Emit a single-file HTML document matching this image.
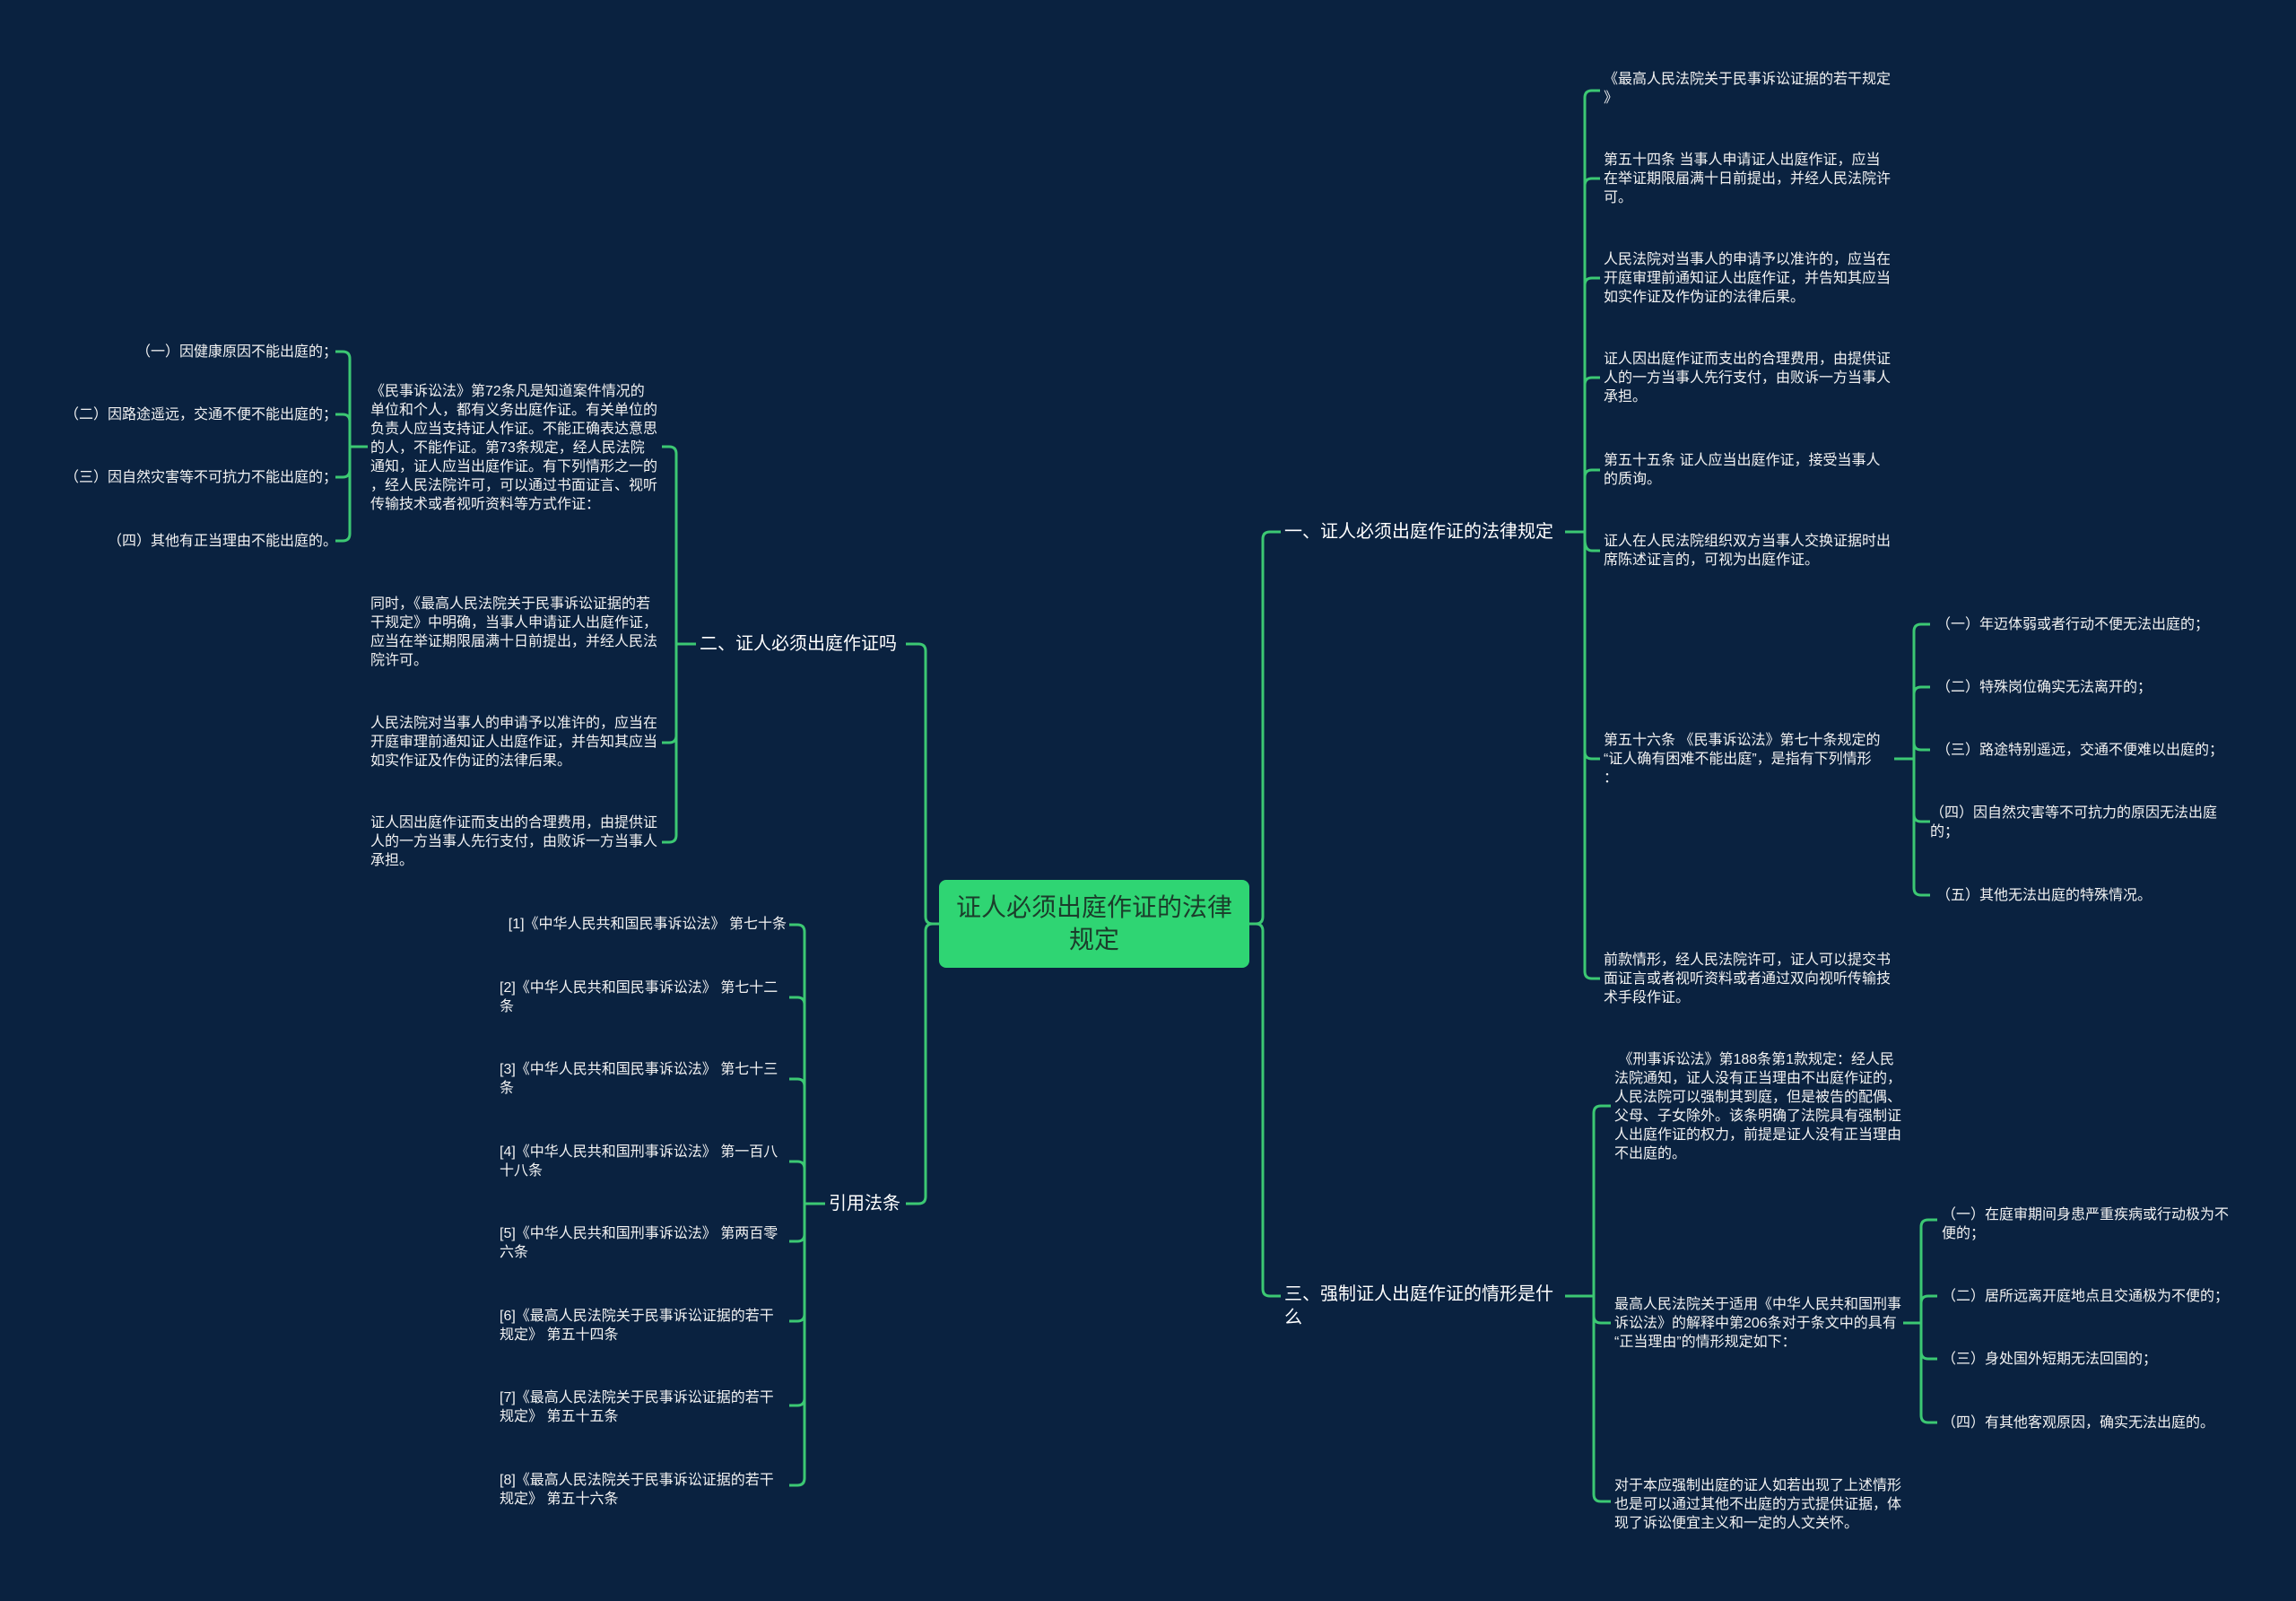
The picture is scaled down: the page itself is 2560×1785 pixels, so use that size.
<!DOCTYPE html>
<html><head><meta charset="utf-8"><style>
html,body{margin:0;padding:0;}
body{width:2560px;height:1785px;background:#0a2240;position:relative;overflow:hidden;font-family:"Liberation Sans","Noto Sans CJK SC",sans-serif;color:#fff;}
.t{position:absolute;font-size:16px;line-height:21px;color:#f2f2f2;}
.b{position:absolute;font-size:20px;line-height:26px;color:#fff;white-space:nowrap;}
.r{text-align:right;white-space:nowrap;}
#root{position:absolute;left:1047px;top:981px;width:346px;height:98px;background:#2fd573;border-radius:8px;color:#1b3d2b;font-size:28px;line-height:36px;text-align:center;display:flex;align-items:center;justify-content:center;}
svg{position:absolute;left:0;top:0;}
</style></head><body>
<svg width="2560" height="1785" fill="none" stroke="#3cc873" stroke-width="3">
<path d="M1393 1030 H1400 Q1408 1030 1408 1022 V601 Q1408 593 1416 593 H1428"/>
<path d="M1400 1030 Q1408 1030 1408 1038 V1437 Q1408 1445 1416 1445 H1428"/>
<path d="M1047 1030 H1040 Q1032 1030 1032 1022 V726 Q1032 718 1024 718 H1010"/>
<path d="M1040 1030 Q1032 1030 1032 1038 V1334 Q1032 1342 1024 1342 H1010"/>
<path d="M1745 593 H1767"/>
<path d="M1767 593 V109 Q1767 101 1775 101 H1784"/>
<path d="M1767 207 Q1767 199 1775 199 H1784"/>
<path d="M1767 318 Q1767 310 1775 310 H1784"/>
<path d="M1767 429 Q1767 421 1775 421 H1784"/>
<path d="M1767 532 Q1767 524 1775 524 H1784"/>
<path d="M1767 601 Q1767 614 1775 614 H1784"/>
<path d="M1767 593 V1083 Q1767 1091 1775 1091 H1784"/>
<path d="M1767 838 Q1767 846 1775 846 H1784"/>
<path d="M2112 846 H2134"/>
<path d="M2134 846 V704 Q2134 696 2142 696 H2152"/>
<path d="M2134 774 Q2134 766 2142 766 H2152"/>
<path d="M2134 846 V990 Q2134 998 2142 998 H2152"/>
<path d="M2134 828 Q2134 836 2142 836 H2152"/>
<path d="M2134 908 Q2134 916 2142 916 H2152"/>
<path d="M1745 1445 H1777"/>
<path d="M1777 1445 V1241 Q1777 1233 1785 1233 H1796"/>
<path d="M1777 1445 V1666 Q1777 1674 1785 1674 H1796"/>
<path d="M1777 1467 Q1777 1475 1785 1475 H1796"/>
<path d="M2122 1475 H2142"/>
<path d="M2142 1475 V1368 Q2142 1360 2150 1360 H2160"/>
<path d="M2142 1453 Q2142 1445 2150 1445 H2160"/>
<path d="M2142 1475 V1578 Q2142 1586 2150 1586 H2160"/>
<path d="M2142 1507 Q2142 1515 2150 1515 H2160"/>
<path d="M776 718 H754"/>
<path d="M754 718 V506 Q754 498 746 498 H738"/>
<path d="M754 718 V931 Q754 939 746 939 H738"/>
<path d="M754 820 Q754 828 746 828 H738"/>
<path d="M410 498 H390"/>
<path d="M390 498 V400 Q390 392 382 392 H374"/>
<path d="M390 470 Q390 462 382 462 H374"/>
<path d="M390 498 V595 Q390 603 382 603 H374"/>
<path d="M390 524 Q390 532 382 532 H374"/>
<path d="M920 1342 H897"/>
<path d="M897 1342 V1039 Q897 1031 889 1031 H880"/>
<path d="M897 1120 Q897 1112 889 1112 H880"/>
<path d="M897 1211 Q897 1203 889 1203 H880"/>
<path d="M897 1303 Q897 1295 889 1295 H880"/>
<path d="M897 1342 V1648 Q897 1656 889 1656 H880"/>
<path d="M897 1376 Q897 1384 889 1384 H880"/>
<path d="M897 1465 Q897 1473 889 1473 H880"/>
<path d="M897 1559 Q897 1567 889 1567 H880"/>
</svg>

<div id="root"><div>证人必须出庭作证的法律<br>规定</div></div>

<div class="b" style="left:1432px;top:580px;">一、证人必须出庭作证的法律规定</div>
<div class="b" style="left:1432px;top:1430px;white-space:normal;width:312px;">三、强制证人出庭作证的情形是什么</div>
<div class="b" style="left:780px;top:705px;">二、证人必须出庭作证吗</div>
<div class="b" style="left:924px;top:1329px;">引用法条</div>

<div class="t" style="left:1788px;top:78px;width:330px;">《最高人民法院关于民事诉讼证据的若干规定<br>》</div>
<div class="t" style="left:1788px;top:168px;width:330px;">第五十四条 当事人申请证人出庭作证，应当<br>在举证期限届满十日前提出，并经人民法院许<br>可。</div>
<div class="t" style="left:1788px;top:279px;width:330px;">人民法院对当事人的申请予以准许的，应当在<br>开庭审理前通知证人出庭作证，并告知其应当<br>如实作证及作伪证的法律后果。</div>
<div class="t" style="left:1788px;top:390px;width:330px;">证人因出庭作证而支出的合理费用，由提供证<br>人的一方当事人先行支付，由败诉一方当事人<br>承担。</div>
<div class="t" style="left:1788px;top:503px;width:330px;">第五十五条 证人应当出庭作证，接受当事人<br>的质询。</div>
<div class="t" style="left:1788px;top:593px;width:330px;">证人在人民法院组织双方当事人交换证据时出<br>席陈述证言的，可视为出庭作证。</div>
<div class="t" style="left:1788px;top:815px;width:330px;">第五十六条 《民事诉讼法》第七十条规定的<br>“证人确有困难不能出庭”，是指有下列情形<br>：</div>
<div class="t" style="left:1788px;top:1060px;width:330px;">前款情形，经人民法院许可，证人可以提交书<br>面证言或者视听资料或者通过双向视听传输技<br>术手段作证。</div>

<div class="t" style="left:2159px;top:686px;white-space:nowrap;">（一）年迈体弱或者行动不便无法出庭的；</div>
<div class="t" style="left:2159px;top:756px;white-space:nowrap;">（二）特殊岗位确实无法离开的；</div>
<div class="t" style="left:2159px;top:826px;white-space:nowrap;">（三）路途特别遥远，交通不便难以出庭的；</div>
<div class="t" style="left:2152px;top:896px;width:340px;">（四）因自然灾害等不可抗力的原因无法出庭<br>的；</div>
<div class="t" style="left:2159px;top:988px;white-space:nowrap;">（五）其他无法出庭的特殊情况。</div>

<div class="t" style="left:1800px;top:1171px;width:330px;">&nbsp;《刑事诉讼法》第188条第1款规定：经人民<br>法院通知，证人没有正当理由不出庭作证的，<br>人民法院可以强制其到庭，但是被告的配偶、<br>父母、子女除外。该条明确了法院具有强制证<br>人出庭作证的权力，前提是证人没有正当理由<br>不出庭的。</div>
<div class="t" style="left:1800px;top:1444px;width:330px;">最高人民法院关于适用《中华人民共和国刑事<br>诉讼法》的解释中第206条对于条文中的具有<br>“正当理由”的情形规定如下：</div>
<div class="t" style="left:1800px;top:1646px;width:330px;">对于本应强制出庭的证人如若出现了上述情形<br>也是可以通过其他不出庭的方式提供证据，体<br>现了诉讼便宜主义和一定的人文关怀。</div>

<div class="t" style="left:2165px;top:1344px;width:330px;">（一）在庭审期间身患严重疾病或行动极为不<br>便的；</div>
<div class="t" style="left:2165px;top:1435px;white-space:nowrap;">（二）居所远离开庭地点且交通极为不便的；</div>
<div class="t" style="left:2165px;top:1505px;white-space:nowrap;">（三）身处国外短期无法回国的；</div>
<div class="t" style="left:2165px;top:1576px;white-space:nowrap;">（四）有其他客观原因，确实无法出庭的。</div>

<div class="t" style="left:413px;top:426px;width:330px;">《民事诉讼法》第72条凡是知道案件情况的<br>单位和个人，都有义务出庭作证。有关单位的<br>负责人应当支持证人作证。不能正确表达意思<br>的人，不能作证。第73条规定，经人民法院<br>通知，证人应当出庭作证。有下列情形之一的<br>，经人民法院许可，可以通过书面证言、视听<br>传输技术或者视听资料等方式作证：</div>
<div class="t" style="left:413px;top:663px;width:330px;">同时，《最高人民法院关于民事诉讼证据的若<br>干规定》中明确，当事人申请证人出庭作证，<br>应当在举证期限届满十日前提出，并经人民法<br>院许可。</div>
<div class="t" style="left:413px;top:796px;width:330px;">人民法院对当事人的申请予以准许的，应当在<br>开庭审理前通知证人出庭作证，并告知其应当<br>如实作证及作伪证的法律后果。</div>
<div class="t" style="left:413px;top:907px;width:330px;">证人因出庭作证而支出的合理费用，由提供证<br>人的一方当事人先行支付，由败诉一方当事人<br>承担。</div>

<div class="t r" style="right:2184px;top:382px;">（一）因健康原因不能出庭的；</div>
<div class="t r" style="right:2184px;top:452px;">（二）因路途遥远，交通不便不能出庭的；</div>
<div class="t r" style="right:2184px;top:522px;">（三）因自然灾害等不可抗力不能出庭的；</div>
<div class="t r" style="right:2184px;top:593px;">（四）其他有正当理由不能出庭的。</div>

<div class="t r" style="right:1683px;top:1020px;">[1]《中华人民共和国民事诉讼法》 第七十条</div>
<div class="t" style="left:557px;top:1091px;width:320px;">[2]《中华人民共和国民事诉讼法》 第七十二<br>条</div>
<div class="t" style="left:557px;top:1182px;width:320px;">[3]《中华人民共和国民事诉讼法》 第七十三<br>条</div>
<div class="t" style="left:557px;top:1274px;width:320px;">[4]《中华人民共和国刑事诉讼法》 第一百八<br>十八条</div>
<div class="t" style="left:557px;top:1365px;width:320px;">[5]《中华人民共和国刑事诉讼法》 第两百零<br>六条</div>
<div class="t" style="left:557px;top:1457px;width:320px;">[6]《最高人民法院关于民事诉讼证据的若干<br>规定》 第五十四条</div>
<div class="t" style="left:557px;top:1548px;width:320px;">[7]《最高人民法院关于民事诉讼证据的若干<br>规定》 第五十五条</div>
<div class="t" style="left:557px;top:1640px;width:320px;">[8]《最高人民法院关于民事诉讼证据的若干<br>规定》 第五十六条</div>
</body></html>
